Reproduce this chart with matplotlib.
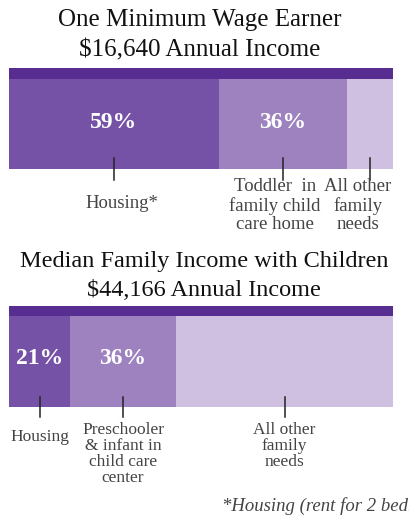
import matplotlib
matplotlib.use("Agg")
import matplotlib.pyplot as plt

# ---- data ----
top_title = ["One Minimum Wage Earner", "$16,640 Annual Income"]
top_widths = [54.7, 33.3, 12.0]          # drawn segment widths (% of bar)
top_pct_labels = ["59%", "36%", ""]
top_cat_labels = ["Housing*", "Toddler  in\nfamily child\ncare home", "All other\nfamily\nneeds"]

bot_title = ["Median Family Income with Children", "$44,166 Annual Income"]
bot_widths = [15.9, 27.6, 56.5]
bot_pct_labels = ["21%", "36%", ""]
bot_cat_labels = ["Housing", "Preschooler\n& infant in\nchild care\ncenter", "All other\nfamily\nneeds"]

footnote = "*Housing (rent for 2 bedroom apartment)"

# ---- layout (label horizontal nudges, in bar-% units) ----
top_label_shift = [2.1, -2.1, -3.2]
bot_label_shift = [0.0, 0.0, 0.0]

seg_colors = ["#7652a7", "#9d82bf", "#cfc0e1"]
band_color = "#572d92"
label_color = "#444444"
SERIF = "Liberation Serif"

W, H = 409, 516
fig = plt.figure(figsize=(W / 100, H / 100), dpi=100)
fig.patch.set_facecolor("white")


def px_axes(top_px, bottom_px, left_px=9, right_px=393):
    return fig.add_axes([left_px / W, 1 - bottom_px / H,
                         (right_px - left_px) / W, (bottom_px - top_px) / H])


def draw_bar(ax, widths, pct_labels, cat_labels, shifts, band_h, tick_y, label_specs,
             pct_y, lab_size, lab_ls):
    total_h = ax.get_ylim()[0]
    ax.barh(band_h / 2, sum(widths), height=band_h, left=0, color=band_color, linewidth=0)
    left = 0
    centers = []
    for w, c in zip(widths, seg_colors):
        ax.barh((band_h + total_h) / 2, w, height=total_h - band_h, left=left,
                color=c, linewidth=0)
        centers.append(left + w / 2)
        left += w
    for cx, p in zip(centers, pct_labels):
        if p:
            ax.text(cx, pct_y, p, ha="center", va="center", color="white",
                    fontsize=17, fontweight="bold", family=SERIF)
    for cx in centers:
        ax.plot([cx, cx], tick_y, color="#222222", lw=1.1, clip_on=False)
    for cx, s, lab, (y, va) in zip(centers, shifts, cat_labels, label_specs):
        ax.text(cx + s, y, lab, ha="center", va=va, color=label_color, fontsize=lab_size,
                family=SERIF, linespacing=lab_ls, clip_on=False)
    ax.set_xlim(0, 100)
    ax.axis("off")


# top chart
fig.text(200 / W, 1 - 20 / H, top_title[0], ha="center", va="center", fontsize=18,
         family=SERIF, color="#111111")
fig.text(200 / W, 1 - 50 / H, top_title[1], ha="center", va="center", fontsize=18,
         family=SERIF, color="#111111")
ax1 = px_axes(68, 169)
ax1.set_ylim(101, 0)
draw_bar(ax1, top_widths, top_pct_labels, top_cat_labels, top_label_shift, band_h=11,
         tick_y=(90, 112), label_specs=[(135, "center"), (110, "top"), (110, "top")],
         pct_y=54, lab_size=13.5, lab_ls=1.12)

# bottom chart
fig.text(204 / W, 1 - 262 / H, bot_title[0], ha="center", va="center", fontsize=17.5,
         family=SERIF, color="#111111")
fig.text(204 / W, 1 - 291 / H, bot_title[1], ha="center", va="center", fontsize=17.5,
         family=SERIF, color="#111111")
ax2 = px_axes(306, 407)
ax2.set_ylim(101, 0)
draw_bar(ax2, bot_widths, bot_pct_labels, bot_cat_labels, bot_label_shift, band_h=10,
         tick_y=(91, 111), label_specs=[(131, "center"), (116, "top"), (116, "top")],
         pct_y=53, lab_size=12.5, lab_ls=1.0)

fig.text(222 / W, 1 - 506 / H, footnote, ha="left", va="center", fontsize=13.5,
         family=SERIF, style="italic", color="#444444")

fig.savefig("out.png", dpi=100)
